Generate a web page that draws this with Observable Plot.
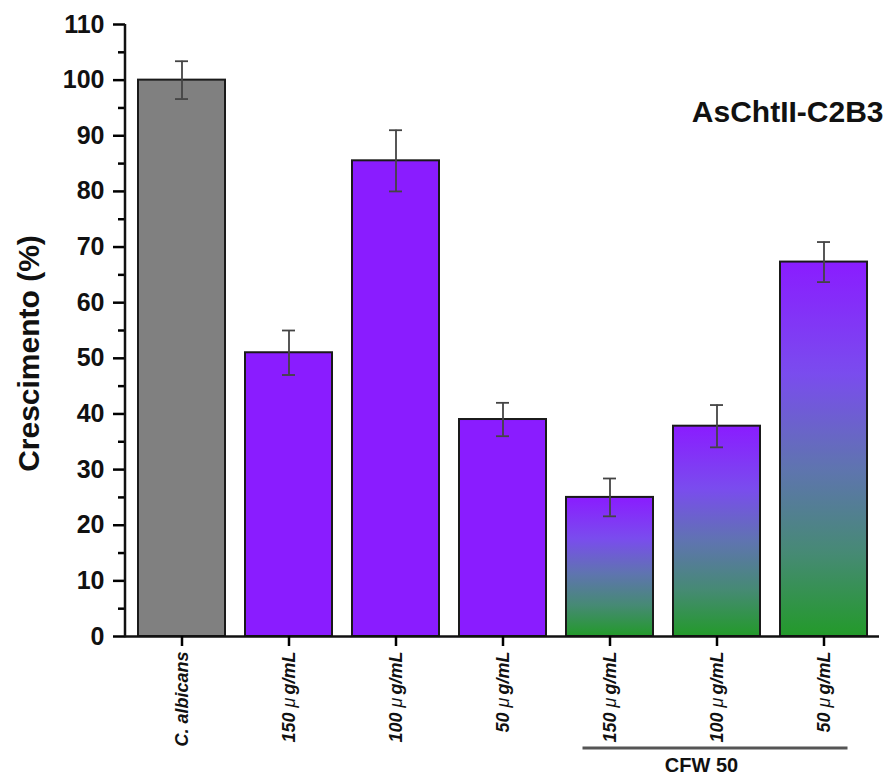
<!DOCTYPE html>
<html><head><meta charset="utf-8">
<script src="https://cdn.jsdelivr.net/npm/d3@7"></script>
<script src="https://cdn.jsdelivr.net/npm/@observablehq/plot@0.6"></script>
<style>
body{margin:0;background:#fff;}
svg{font-family:"Liberation Sans",Arial,sans-serif;}
</style>
</head><body><div id="chart"></div>
<script>
const keys = ["ctrl","e150","e100","e50","c150","c100","c50"];
const labels = ["C. albicans","150 μg/mL","100 μg/mL","50 μg/mL","150 μg/mL","100 μg/mL","50 μg/mL"];
const groups = ["control","extract","extract","extract","cfw","cfw","cfw"];
const values = [100, 51, 85.5, 39, 25, 37.8, 67.3];
const errors = [3.4, 4, 5.5, 3, 3.4, 3.8, 3.6];
const yTicks = [0,10,20,30,40,50,60,70,80,90,100,110];
const yMinor = [5,15,25,35,45,55,65,75,85,95,105];
const title = "AsChtII-C2B3";
const yLabel = "Crescimento (%)";
const bracketLabel = "CFW 50";
const bracketKeys = ["c150","c100","c50"];
const groupFill = {control:"#808080", extract:"#8a1cff", cfw:"url(#cfwGrad)"};

const data = keys.map((k,i)=>({key:k,label:labels[i],group:groups[i],value:values[i],err:errors[i]}));

const barOpts = {x:"key", y:"value", stroke:"#1a1a1a", strokeWidth:2};
const errStroke = "#444";

const chart = Plot.plot({
  width: 884,
  height: 778,
  marginLeft: 125,
  marginRight: 5,
  marginTop: 24,
  marginBottom: 142,
  x: {domain: keys, paddingInner: 0.19, paddingOuter: 0.107},
  y: {domain: [0,110]},
  marks: [
    ...Object.keys(groupFill).map(g => Plot.barY(data.filter(d=>d.group===g), {...barOpts, fill: groupFill[g]})),
    Plot.ruleX(data, {x:"key", y1:d=>d.value-d.err, y2:d=>d.value+d.err, stroke:errStroke, strokeWidth:1.8}),
    Plot.tickY(data, {x:"key", y:d=>d.value+d.err, insetLeft:37, insetRight:37, stroke:errStroke, strokeWidth:1.8}),
    Plot.tickY(data, {x:"key", y:d=>d.value-d.err, insetLeft:37, insetRight:37, stroke:errStroke, strokeWidth:1.8}),
    Plot.ruleY([0], {stroke:"#111", strokeWidth:2.5}),
    Plot.axisY(yTicks, {tickSize:12, tickPadding:9, fontSize:25, fontWeight:"bold", strokeWidth:2.5, label:null, fill:"#111"}),
    Plot.axisY(yMinor, {tickSize:7, text:null, strokeWidth:2.5, label:null}),
    Plot.axisX({tickSize:10, tickPadding:5, tickRotate:-90, fontSize:18, fontWeight:"bold", fontStyle:"italic",
      strokeWidth:2.5, fill:"#111", tickFormat:k=>labels[keys.indexOf(k)], label:null}),
    Plot.text([title], {text:d=>d, frameAnchor:"top-right", textAnchor:"end", lineAnchor:"middle", dx:4, dy:88, fontSize:30, fontWeight:"bold", fill:"#111"}),
    Plot.text([yLabel], {text:d=>d, frameAnchor:"left", textAnchor:"middle", lineAnchor:"middle", rotate:-90, dx:-96, dy:23, fontSize:30, fontWeight:"bold", fill:"#111"})
  ]
});

const svg = d3.select(chart);
svg.insert("defs", ":first-child").html(`
  <linearGradient id="cfwGrad" x1="0" y1="0" x2="0" y2="1">
    <stop offset="0" stop-color="#8a1cff"/>
    <stop offset="0.3" stop-color="#7a4cee"/>
    <stop offset="0.55" stop-color="#5f74b0"/>
    <stop offset="0.78" stop-color="#468a74"/>
    <stop offset="1" stop-color="#239a2a"/>
  </linearGradient>`);

// mu glyph in lighter weight
svg.selectAll('g[aria-label="x-axis tick label"] text').each(function(){
  const t = d3.select(this);
  const s = t.text();
  if (s.includes("μ")) {
    const [a,b] = s.split("μ");
    t.text(null);
    t.append("tspan").text(a);
    t.append("tspan").attr("font-weight","normal").text("μ");
    t.append("tspan").attr("dx", 3).text(b);
  }
});

const sx = chart.scale("x"), sy = chart.scale("y");
const bw = sx.bandwidth;
// y axis line
svg.append("line").attr("x1",125).attr("x2",125)
  .attr("y1", sy.apply(0)+1.25).attr("y2", sy.apply(110))
  .attr("stroke","#111").attr("stroke-width",2.5);
// CFW bracket
const bx1 = sx.apply(bracketKeys[0]) + bw/2 - 27;
const bx2 = sx.apply(bracketKeys[2]) + bw/2 + 24;
const by = sy.apply(0) + 112;
svg.append("line").attr("x1",bx1).attr("x2",bx2).attr("y1",by).attr("y2",by)
  .attr("stroke","#555").attr("stroke-width",3);
svg.append("text").attr("x", sx.apply(bracketKeys[1]) + bw/2 - 15).attr("y", by + 24)
  .attr("text-anchor","middle").attr("font-size",20).attr("font-weight","bold").attr("fill","#111")
  .text(bracketLabel);

document.getElementById("chart").appendChild(chart);
</script>
</body></html>
